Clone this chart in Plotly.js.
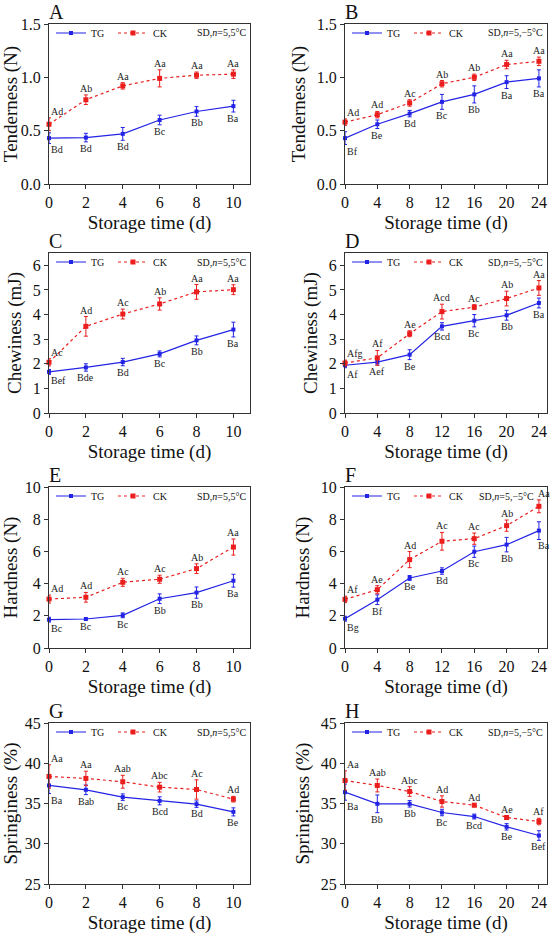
<!DOCTYPE html>
<html><head><meta charset="utf-8">
<script src="https://cdn.plot.ly/plotly-3.0.1.min.js"></script>
<style>html,body{margin:0;padding:0;background:#fff}#chart{width:550px;height:936px}</style>
</head><body><div id="chart"></div>
<script>
// ---- data ----
const days5 = [0, 2, 4, 6, 8, 10];
const daysM5 = [0, 4, 8, 12, 16, 20, 24];

// A: Tenderness 5°C
const tenderTG5 = [0.43, 0.435, 0.47, 0.60, 0.68, 0.73];
const tenderTG5Err = [0.05, 0.04, 0.06, 0.045, 0.045, 0.055];
const tenderCK5 = [0.56, 0.79, 0.92, 0.99, 1.02, 1.03];
const tenderCK5Err = [0.06, 0.045, 0.03, 0.08, 0.03, 0.04];
const tenderTG5Lab = ["Bd", "Bd", "Bd", "Bc", "Bb", "Ba"];
const tenderCK5Lab = ["Ad", "Ab", "Aa", "Aa", "Aa", "Aa"];

// B: Tenderness -5°C
const tenderTGm5 = [0.43, 0.56, 0.66, 0.77, 0.84, 0.955, 0.99];
const tenderTGm5Err = [0.06, 0.04, 0.03, 0.07, 0.08, 0.06, 0.08];
const tenderCKm5 = [0.58, 0.65, 0.76, 0.94, 1.0, 1.12, 1.15];
const tenderCKm5Err = [0.03, 0.03, 0.03, 0.03, 0.03, 0.04, 0.04];
const tenderTGm5Lab = ["Bf", "Be", "Bd", "Bc", "Bb", "Ba", "Ba"];
const tenderCKm5Lab = ["Ad", "Ad", "Ac", "Ab", "Ab", "Aa", "Aa"];

// C: Chewiness 5°C
const chewTG5 = [1.67, 1.85, 2.07, 2.40, 2.95, 3.39];
const chewTG5Err = [0.1, 0.15, 0.15, 0.12, 0.18, 0.3];
const chewCK5 = [2.06, 3.52, 4.02, 4.43, 4.92, 5.01];
const chewCK5Err = [0.15, 0.4, 0.2, 0.25, 0.3, 0.2];
const chewTG5Lab = ["Bef", "Bde", "Bd", "Bc", "Bb", "Ba"];
const chewCK5Lab = ["Ac", "Ad", "Ac", "Ab", "Aa", "Aa"];

// D: Chewiness -5°C
const chewTGm5 = [1.94, 2.07, 2.37, 3.52, 3.75, 3.97, 4.47];
const chewTGm5Err = [0.1, 0.12, 0.2, 0.15, 0.25, 0.2, 0.2];
const chewCKm5 = [2.03, 2.24, 3.22, 4.12, 4.30, 4.65, 5.08];
const chewCKm5Err = [0.12, 0.3, 0.12, 0.3, 0.1, 0.3, 0.3];
const chewTGm5Lab = ["Af", "Aef", "Be", "Bcd", "Bc", "Bb", "Ba"];
const chewCKm5Lab = ["Afg", "Af", "Ae", "Acd", "Ac", "Ab", "Aa"];

// E: Hardness 5°C
const hardTG5 = [1.76, 1.80, 2.03, 3.06, 3.44, 4.18];
const hardTG5Err = [0.15, 0.05, 0.15, 0.3, 0.35, 0.4];
const hardCK5 = [3.04, 3.15, 4.08, 4.27, 4.93, 6.27];
const hardCK5Err = [0.25, 0.3, 0.25, 0.25, 0.3, 0.5];
const hardTG5Lab = ["Bc", "Bc", "Bc", "Bb", "Bb", "Ba"];
const hardCK5Lab = ["Ad", "Ad", "Ac", "Ac", "Ab", "Aa"];

// F: Hardness -5°C
const hardTGm5 = [1.82, 3.0, 4.35, 4.78, 5.98, 6.42, 7.29];
const hardTGm5Err = [0.15, 0.3, 0.15, 0.2, 0.35, 0.45, 0.55];
const hardCKm5 = [3.02, 3.62, 5.49, 6.63, 6.79, 7.60, 8.80];
const hardCKm5Err = [0.2, 0.25, 0.5, 0.55, 0.35, 0.35, 0.4];
const hardTGm5Lab = ["Bg", "Bf", "Be", "Bd", "Bc", "Bb", "Ba"];
const hardCKm5Lab = ["Af", "Ae", "Ad", "Ac", "Ac", "Ab", "Aa"];

// G: Springiness 5°C
const springTG5 = [37.24, 36.70, 35.79, 35.33, 34.92, 33.96];
const springTG5Err = [1.0, 0.6, 0.4, 0.5, 0.4, 0.5];
const springCK5 = [38.36, 38.11, 37.70, 37.03, 36.74, 35.54];
const springCK5Err = [1.45, 0.9, 0.8, 0.6, 1.2, 0.35];
const springTG5Lab = ["Ba", "Bab", "Bc", "Bcd", "Bd", "Be"];
const springCK5Lab = ["Aa", "Aa", "Aab", "Abc", "Ac", "Ad"];

// H: Springiness -5°C
const springTGm5 = [36.41, 34.96, 34.96, 33.88, 33.38, 32.10, 31.02];
const springTGm5Err = [1.0, 1.1, 0.4, 0.4, 0.3, 0.4, 0.6];
const springCKm5 = [37.86, 37.24, 36.49, 35.25, 34.79, 33.26, 32.76];
const springCKm5Err = [1.2, 0.8, 0.6, 0.7, 0.2, 0.2, 0.4];
const springTGm5Lab = ["Ba", "Bb", "Bb", "Bc", "Bcd", "Be", "Bef"];
const springCKm5Lab = ["Aa", "Aab", "Abc", "Ad", "Ad", "Ae", "Af"];

const panelLetters = ["A", "B", "C", "D", "E", "F", "G", "H"];
const yTitles = ["Tenderness (N)", "Tenderness (N)", "Chewiness (mJ)", "Chewiness (mJ)",
                 "Hardness (N)", "Hardness (N)", "Springiness (%)", "Springiness (%)"];
const xTitle = "Storage time (d)";
const seriesNames = ["TG", "CK"];
const condLabels = ["SD,<i>n</i>=5,5°C", "SD,<i>n</i>=5,−5°C"];

// ---- layout geometry ----
const W = 550, H = 936;
const colL = [49, 345], colR = [250, 547];
const rowT = [24, 253, 487, 723], rowB = [184, 413, 648, 884];
const xp = p => p / W, yp = p => 1 - p / H;
const FONT = "'Liberation Serif', 'DejaVu Serif', serif";
const BLUE = "rgb(35,35,230)", RED = "rgb(235,30,30)";
const condShift = [0, 0, 0, 0, 0, -9, 0, 0];   // px shift of condition label per panel
const lastLabelRight = [false, false, false, false, false, true, false, false];

const panels = [
  {x: days5, tg: tenderTG5, tge: tenderTG5Err, ck: tenderCK5, cke: tenderCK5Err, tgl: tenderTG5Lab, ckl: tenderCK5Lab, yr: [0, 1.5], dt: 0.5, fmt: ".1f"},
  {x: daysM5, tg: tenderTGm5, tge: tenderTGm5Err, ck: tenderCKm5, cke: tenderCKm5Err, tgl: tenderTGm5Lab, ckl: tenderCKm5Lab, yr: [0, 1.5], dt: 0.5, fmt: ".1f"},
  {x: days5, tg: chewTG5, tge: chewTG5Err, ck: chewCK5, cke: chewCK5Err, tgl: chewTG5Lab, ckl: chewCK5Lab, yr: [0, 6.5], dt: 1, fmt: "d"},
  {x: daysM5, tg: chewTGm5, tge: chewTGm5Err, ck: chewCKm5, cke: chewCKm5Err, tgl: chewTGm5Lab, ckl: chewCKm5Lab, yr: [0, 6.5], dt: 1, fmt: "d"},
  {x: days5, tg: hardTG5, tge: hardTG5Err, ck: hardCK5, cke: hardCK5Err, tgl: hardTG5Lab, ckl: hardCK5Lab, yr: [0, 10], dt: 2, fmt: "d"},
  {x: daysM5, tg: hardTGm5, tge: hardTGm5Err, ck: hardCKm5, cke: hardCKm5Err, tgl: hardTGm5Lab, ckl: hardCKm5Lab, yr: [0, 10], dt: 2, fmt: "d"},
  {x: days5, tg: springTG5, tge: springTG5Err, ck: springCK5, cke: springCK5Err, tgl: springTG5Lab, ckl: springCK5Lab, yr: [25, 45], dt: 5, fmt: "d"},
  {x: daysM5, tg: springTGm5, tge: springTGm5Err, ck: springCKm5, cke: springCKm5Err, tgl: springTGm5Lab, ckl: springCKm5Lab, yr: [25, 45], dt: 5, fmt: "d"}
];

const data = [];
const layout = {
  width: W, height: H,
  margin: {l: 0, r: 0, t: 0, b: 0},
  paper_bgcolor: "#fff", plot_bgcolor: "#fff",
  font: {family: FONT, color: "#111"},
  showlegend: true,
  annotations: []
};

panels.forEach((p, i) => {
  const col = i % 2, row = Math.floor(i / 2);
  const n = i + 1;
  const xa = "x" + (n === 1 ? "" : n), ya = "y" + (n === 1 ? "" : n);
  const xkey = "xaxis" + (n === 1 ? "" : n), ykey = "yaxis" + (n === 1 ? "" : n);
  const lkey = "legend" + (n === 1 ? "" : n);
  const xmax = col === 0 ? 10.9 : 25;
  const xdt = col === 0 ? 2 : 4;

  data.push({
    type: "scatter", mode: "lines+markers", name: seriesNames[0],
    x: p.x, y: p.tg, xaxis: xa, yaxis: ya, legend: lkey, cliponaxis: false,
    line: {color: BLUE, width: 1.2},
    marker: {color: BLUE, size: 4, symbol: "square"},
    error_y: {type: "data", array: p.tge, visible: true, color: BLUE, thickness: 1, width: 2}
  });
  data.push({
    type: "scatter", mode: "lines+markers", name: seriesNames[1],
    x: p.x, y: p.ck, xaxis: xa, yaxis: ya, legend: lkey, cliponaxis: false,
    line: {color: RED, width: 1.2, dash: "dot"},
    marker: {color: RED, size: 5, symbol: "square"},
    error_y: {type: "data", array: p.cke, visible: true, color: RED, thickness: 1, width: 2}
  });

  layout[xkey] = {
    domain: [xp(colL[col]), xp(colR[col])], anchor: ya,
    range: [0, xmax], tick0: 0, dtick: xdt, ticks: "outside", ticklen: 4, tickwidth: 1,
    tickcolor: "#333", showline: true, linecolor: "#333", linewidth: 1, mirror: true,
    showgrid: false, zeroline: false,
    tickfont: {family: FONT, size: 16, color: "#111"},
    title: {text: xTitle, font: {family: FONT, size: 19, color: "#111"}, standoff: 5}
  };
  layout[ykey] = {
    domain: [yp(rowB[row]), yp(rowT[row])], anchor: xa,
    range: p.yr, dtick: p.dt, tick0: p.yr[0], tickformat: p.fmt,
    ticks: "outside", ticklen: 4, tickwidth: 1, tickcolor: "#333",
    showline: true, linecolor: "#333", linewidth: 1, mirror: true,
    showgrid: false, zeroline: false,
    tickfont: {family: FONT, size: 16, color: "#111"},
    title: {text: yTitles[i], font: {family: FONT, size: 19, color: "#111"}, standoff: 6}
  };
  layout[lkey] = {
    x: xp(colL[col] + 2), y: yp(rowT[row] + 9), xref: "paper", yref: "paper",
    xanchor: "left", yanchor: "middle", orientation: "h",
    bgcolor: "rgba(0,0,0,0)", borderwidth: 0,
    font: {family: FONT, size: 10, color: "#111"},
    entrywidth: 17, entrywidthmode: "pixels", itemwidth: 30, tracegroupgap: 0
  };

  // panel letter
  layout.annotations.push({
    text: panelLetters[i], xref: "paper", yref: "paper",
    x: xp(colL[col] - 2), y: yp(rowT[row] - 12), xanchor: "left", yanchor: "middle",
    showarrow: false, font: {family: FONT, size: 20, color: "#111"}
  });
  // condition label
  layout.annotations.push({
    text: condLabels[col], xref: "paper", yref: "paper",
    x: xp(colR[col] - 2 + condShift[i]), y: yp(rowT[row] + 9), xanchor: "right", yanchor: "middle",
    showarrow: false, font: {family: FONT, size: 10, color: "#111"}
  });
  // significance letters
  p.x.forEach((xv, j) => {
    const left = j === 0;
    const right = lastLabelRight[i] && j === p.x.length - 1;
    const anchor = left ? "left" : (right ? "left" : "center");
    const xs = right ? -3 : 0;
    layout.annotations.push({
      text: p.ckl[j], xref: xa, yref: ya, x: xv, y: p.ck[j] + p.cke[j],
      xanchor: anchor, yanchor: "bottom", xshift: xs, yshift: -1,
      showarrow: false, font: {family: FONT, size: 10, color: "#222"}
    });
    layout.annotations.push({
      text: p.tgl[j], xref: xa, yref: ya, x: xv, y: p.tg[j] - p.tge[j],
      xanchor: anchor, yanchor: "top", xshift: xs, yshift: 1,
      showarrow: false, font: {family: FONT, size: 10, color: "#222"}
    });
  });
});

Plotly.newPlot("chart", data, layout, {staticPlot: true, displayModeBar: false});
</script></body></html>
